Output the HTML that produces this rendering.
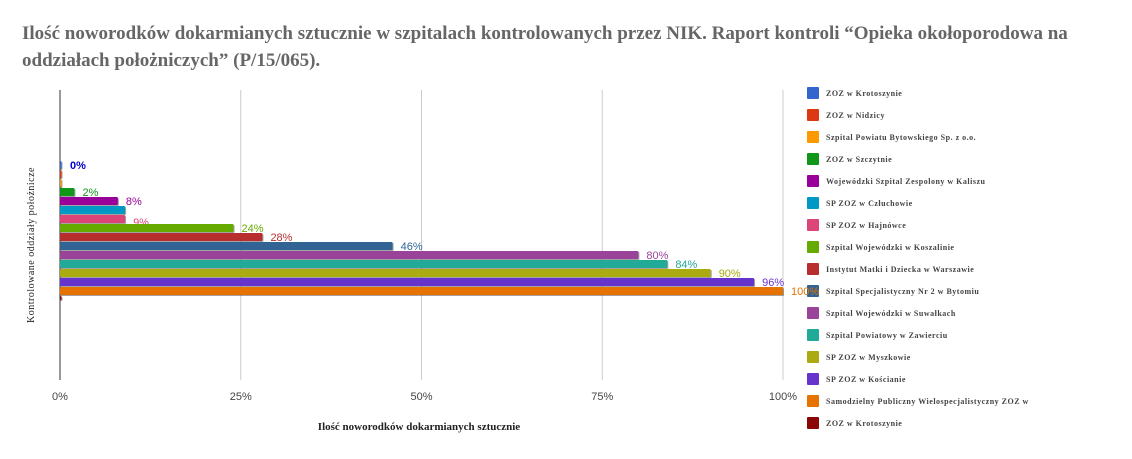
<!DOCTYPE html>
<html><head><meta charset="utf-8"><style>
body{margin:0;background:#fff;width:1132px;height:459px;overflow:hidden;font-family:"Liberation Serif",serif}
#title{position:absolute;left:22px;top:20px;width:1100px;font-weight:bold;font-size:19px;line-height:27px;color:#666}
</style></head><body>
<div id="title">Ilość noworodków dokarmianych sztucznie w szpitalach kontrolowanych przez NIK. Raport kontroli “Opieka okołoporodowa na oddziałach położniczych” (P/15/065).</div>
<svg id="c" width="1132" height="459" style="position:absolute;left:0;top:0"></svg>
<script>
const names=["ZOZ w Krotoszynie","ZOZ w Nidzicy","Szpital Powiatu Bytowskiego Sp. z o.o.","ZOZ w Szczytnie","Wojewódzki Szpital Zespolony w Kaliszu","SP ZOZ w Człuchowie","SP ZOZ w Hajnówce","Szpital Wojewódzki w Koszalinie","Instytut Matki i Dziecka w Warszawie","Szpital Specjalistyczny Nr 2 w Bytomiu","Szpital Wojewódzki w Suwałkach","Szpital Powiatowy w Zawierciu","SP ZOZ w Myszkowie","SP ZOZ w Kościanie","Samodzielny Publiczny Wielospecjalistyczny ZOZ w","ZOZ w Krotoszynie"];
const values=[0,0,0,2,8,9,9,24,28,46,80,84,90,96,100,0];
const labels=["0%","","","2%","8%","","9%","24%","28%","46%","80%","84%","90%","96%","100%",""];
const ticks=[0,25,50,75,100];
const tickLabels=["0%","25%","50%","75%","100%"];
const colors=["#3366cc","#dc3912","#ff9900","#109618","#990099","#0099c6","#dd4477","#66aa00","#b82e2e","#316395","#994499","#22aa99","#aaaa11","#6633cc","#e67300","#8b0707"];
const svg=document.getElementById('c');const NS="http://www.w3.org/2000/svg";
function mk(t,a){const e=document.createElementNS(NS,t);for(const k in a)e.setAttribute(k,a[k]);svg.appendChild(e);return e;}
const x=v=>60+v*(783-60)/100;
const y=i=>161+i*9;
ticks.forEach((t,i)=>{
 const l=mk('line',{x1:x(t),x2:x(t),y1:90,y2:380,stroke:i==0?'#333':'#ccc','stroke-width':1});
 
 
 const tx=mk('text',{x:x(t),y:400,'text-anchor':'middle','font-size':11,fill:'#444','font-family':'Liberation Sans, sans-serif'});
 tx.textContent=tickLabels[i];
 
 
});
values.forEach((v,i)=>{
 const w=Math.max(x(v)-x(0),1.5);
 const sh=mk('rect',{x:x(0),y:y(i)+1,width:w+1,height:i==15?4:8,fill:'#333',opacity:0.45,rx:1});
 
 
 const r=mk('rect',{x:x(0),y:y(i),width:w,height:i==15?4:8,fill:colors[i],rx:1});
 
 
 if(labels[i]){
  const t=mk('text',{x:x(v)+(i==0?10:8),y:y(i)+(i==6?11:8),'font-size':11,fill:i==0?'#0000cc':colors[i],'font-weight':i==0?'bold':'normal','font-family':'Liberation Sans, sans-serif'});
  t.textContent=labels[i];
  
  
 }
 const ly=93+i*22;
 const s=mk('rect',{x:807,y:ly-6,width:12,height:12,fill:colors[i],rx:1});
 
 
 const lt=mk('text',{x:826,y:ly+3,'font-size':8,'font-weight':'bold',fill:'#444','letter-spacing':'0.5'});
 lt.textContent=names[i];
 
 
});
const xt=mk('text',{x:419,y:430,'text-anchor':'middle','font-size':11,'font-weight':'bold',fill:'#222'});
xt.textContent="Ilość noworodków dokarmianych sztucznie";


const yt=mk('text',{x:0,y:0,'text-anchor':'middle','font-size':10,fill:'#222',transform:'translate(34,245) rotate(-90)','letter-spacing':'0.5'});
yt.textContent="Kontrolowane oddziały położnicze";


</script>
</body></html>
